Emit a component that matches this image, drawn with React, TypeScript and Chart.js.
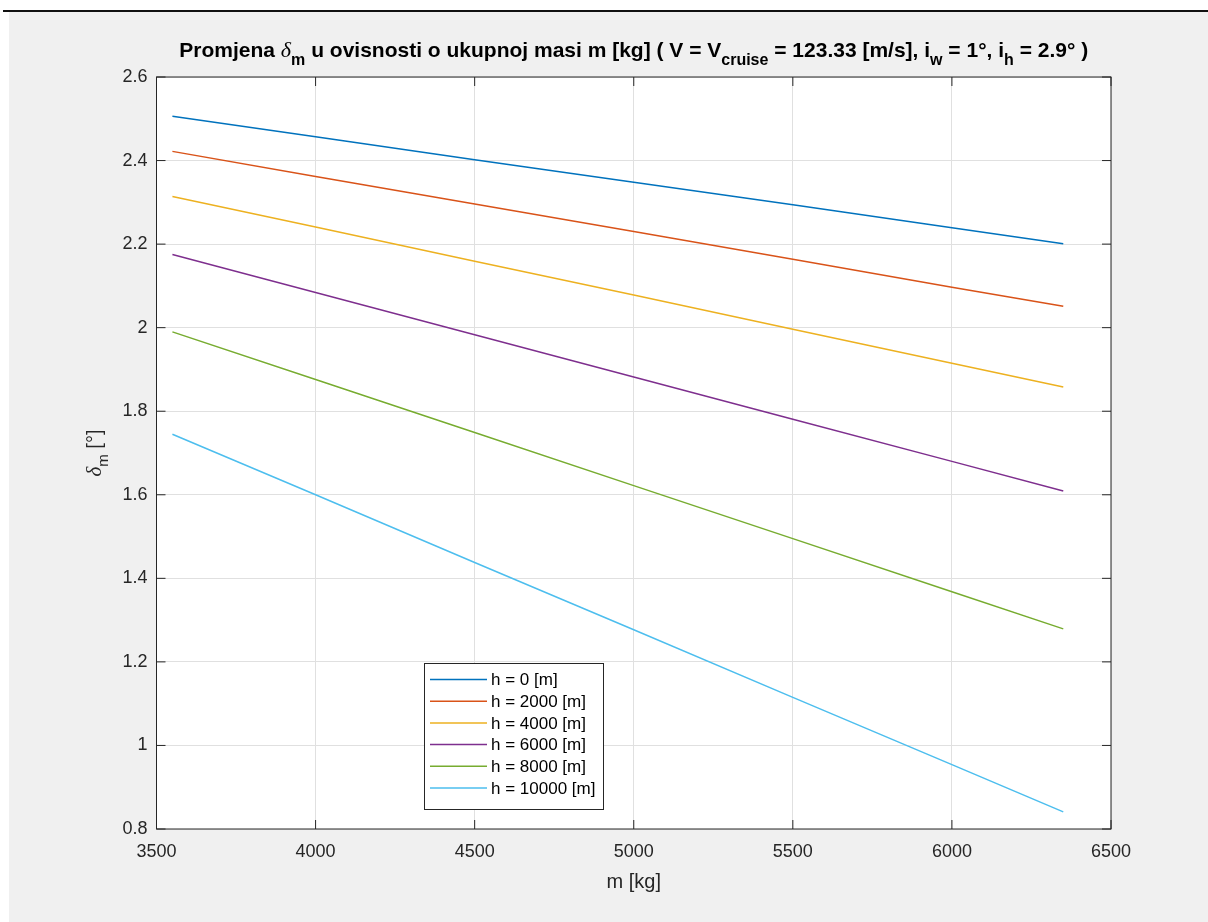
import React, { useEffect, useRef } from 'react';
import { Chart, registerables } from 'chart.js';

Chart.register(...registerables);

// ---- data ----
const masses = [3550, 4000, 4500, 5000, 5500, 6000, 6350];
const h0 = [2.506, 2.457, 2.402, 2.348, 2.294, 2.239, 2.201];
const h2000 = [2.422, 2.362, 2.296, 2.230, 2.164, 2.097, 2.051];
const h4000 = [2.314, 2.241, 2.159, 2.078, 1.996, 1.915, 1.858];
const h6000 = [2.175, 2.084, 1.983, 1.882, 1.781, 1.680, 1.609];
const h8000 = [1.990, 1.876, 1.749, 1.622, 1.495, 1.368, 1.279];
const h10000 = [1.745, 1.600, 1.438, 1.277, 1.115, 0.954, 0.841];
const seriesLabels = ['h = 0 [m]', 'h = 2000 [m]', 'h = 4000 [m]', 'h = 6000 [m]', 'h = 8000 [m]', 'h = 10000 [m]'];
const seriesColors = ['#0072BD', '#D95319', '#EDB120', '#7E2F8E', '#77AC30', '#4DBEEE'];
const xMin = 3500, xMax = 6500, xStep = 500;
const yMin = 0.8, yMax = 2.6, yStep = 0.2;

const SANS = "'Liberation Sans', Arial, Helvetica, sans-serif";
const SERIF = "'Liberation Serif', 'DejaVu Serif', serif";
const AXIS_COLOR = '#262626';

type Part = { text: string; font: string; dy?: number };

function drawRich(ctx: CanvasRenderingContext2D, parts: Part[], x: number, y: number) {
  let total = 0;
  for (const p of parts) { ctx.font = p.font; total += ctx.measureText(p.text).width; }
  let cx = x - total / 2;
  ctx.textAlign = 'left';
  ctx.textBaseline = 'alphabetic';
  for (const p of parts) {
    ctx.font = p.font;
    ctx.fillText(p.text, cx, y + (p.dy || 0));
    cx += ctx.measureText(p.text).width;
  }
}

const matlabPlugin = {
  id: 'matlabLook',
  beforeDraw(chart: any) {
    const { ctx, chartArea: a, width, height } = chart;
    ctx.save();
    ctx.fillStyle = '#f0f0f0';
    ctx.fillRect(0, 0, width, height);
    ctx.fillStyle = '#ffffff';
    ctx.fillRect(a.left, a.top, a.right - a.left, a.bottom - a.top);
    ctx.restore();
  },
  afterDraw(chart: any) {
    const { ctx, chartArea: a } = chart;
    const xs = chart.scales.x;
    const ys = chart.scales.y;
    ctx.save();
    // box
    ctx.strokeStyle = AXIS_COLOR;
    ctx.lineWidth = 1;
    ctx.strokeRect(a.left, a.top, a.right - a.left, a.bottom - a.top);
    // inward ticks
    const tl = 9;
    ctx.beginPath();
    for (const t of xs.ticks) {
      const px = xs.getPixelForValue(t.value);
      ctx.moveTo(px, a.bottom); ctx.lineTo(px, a.bottom - tl);
      ctx.moveTo(px, a.top); ctx.lineTo(px, a.top + tl);
    }
    for (const t of ys.ticks) {
      const py = ys.getPixelForValue(t.value);
      ctx.moveTo(a.left, py); ctx.lineTo(a.left + tl, py);
      ctx.moveTo(a.right, py); ctx.lineTo(a.right - tl, py);
    }
    ctx.stroke();

    const cxMid = (a.left + a.right) / 2;
    // title
    ctx.fillStyle = '#000000';
    const tb = `bold 21px ${SANS}`;
    const ts = `bold 16px ${SANS}`;
    drawRich(ctx, [
      { text: 'Promjena ', font: tb },
      { text: 'δ', font: `italic 22px ${SERIF}` },
      { text: 'm', font: ts, dy: 8 },
      { text: ' u ovisnosti o ukupnoj masi m [kg] ( V = V', font: tb },
      { text: 'cruise', font: ts, dy: 8 },
      { text: ' = 123.33 [m/s], i', font: tb },
      { text: 'w', font: ts, dy: 8 },
      { text: ' = 1°, i', font: tb },
      { text: 'h', font: ts, dy: 8 },
      { text: ' = 2.9° )', font: tb },
    ], cxMid, 45);

    // x label
    ctx.fillStyle = AXIS_COLOR;
    drawRich(ctx, [{ text: 'm [kg]', font: `20px ${SANS}` }], cxMid, 876);

    // y label (rotated)
    ctx.save();
    ctx.translate(92, (a.top + a.bottom) / 2);
    ctx.rotate(-Math.PI / 2);
    drawRich(ctx, [
      { text: 'δ', font: `italic 21px ${SERIF}` },
      { text: 'm', font: `15px ${SANS}`, dy: 7 },
      { text: ' [°]', font: `20px ${SANS}` },
    ], 0, 0);
    ctx.restore();

    // legend
    const bx = 415, by = 651, bw = 179, bh = 146;
    ctx.fillStyle = '#ffffff';
    ctx.fillRect(bx, by, bw, bh);
    ctx.strokeStyle = AXIS_COLOR;
    ctx.lineWidth = 1;
    ctx.strokeRect(bx + 0.5, by + 0.5, bw, bh);
    chart.data.datasets.forEach((ds: any, i: number) => {
      const ry = 667.5 + i * 21.7;
      ctx.strokeStyle = ds.borderColor;
      ctx.lineWidth = 1.5;
      ctx.beginPath();
      ctx.moveTo(bx + 6, ry);
      ctx.lineTo(bx + 63, ry);
      ctx.stroke();
      ctx.fillStyle = '#000000';
      ctx.font = `17px ${SANS}`;
      ctx.textAlign = 'left';
      ctx.textBaseline = 'middle';
      ctx.fillText(ds.label, bx + 67, ry + 1);
    });
    ctx.restore();
  },
};

export default function App() {
  const ref = useRef<HTMLCanvasElement | null>(null);
  useEffect(() => {
    if (!ref.current) return;
    const allSeries = [h0, h2000, h4000, h6000, h8000, h10000];
    const chart = new Chart(ref.current, {
      type: 'line',
      data: {
        datasets: allSeries.map((vals, i) => ({
          label: seriesLabels[i],
          data: masses.map((m, j) => ({ x: m, y: vals[j] })),
          borderColor: seriesColors[i],
          backgroundColor: seriesColors[i],
          borderWidth: 1.5,
          pointRadius: 0,
          tension: 0,
          fill: false,
        })),
      },
      options: {
        responsive: false,
        animation: false,
        layout: { padding: { top: 65, right: 97, bottom: 0, left: 0 } },
        plugins: { legend: { display: false }, title: { display: false }, tooltip: { enabled: false } },
        scales: {
          x: {
            type: 'linear',
            min: xMin,
            max: xMax,
            afterFit: (s: any) => { s.height = 93; },
            ticks: {
              stepSize: xStep,
              padding: 12,
              color: AXIS_COLOR,
              font: { family: SANS, size: 18 },
              callback: (v: any) => String(v),
              maxRotation: 0,
            },
            grid: { color: '#e0e0e0', drawTicks: false, lineWidth: 1 },
            border: { display: false },
          },
          y: {
            type: 'linear',
            min: yMin,
            max: yMax,
            afterFit: (s: any) => { s.width = 147.5; },
            ticks: {
              stepSize: yStep,
              padding: 9,
              color: AXIS_COLOR,
              font: { family: SANS, size: 18 },
              callback: (v: any) => String(Number(Number(v).toFixed(1))),
            },
            grid: { color: '#e0e0e0', drawTicks: false, lineWidth: 1 },
            border: { display: false },
          },
        },
      },
      plugins: [matlabPlugin],
    } as any);
    return () => chart.destroy();
  }, []);

  return (
    <div style={{ position: 'absolute', left: 0, top: 0, width: 1208, height: 922, background: '#ffffff', overflow: 'hidden' }}>
      <div style={{ position: 'absolute', left: 3, top: 10, width: 1205, height: 2, background: '#111111' }} />
      <div style={{ position: 'absolute', left: 9, top: 12, width: 1199, height: 910, background: '#f0f0f0' }}>
        <canvas ref={ref} width={1199} height={910} style={{ display: 'block' }} />
      </div>
    </div>
  );
}
